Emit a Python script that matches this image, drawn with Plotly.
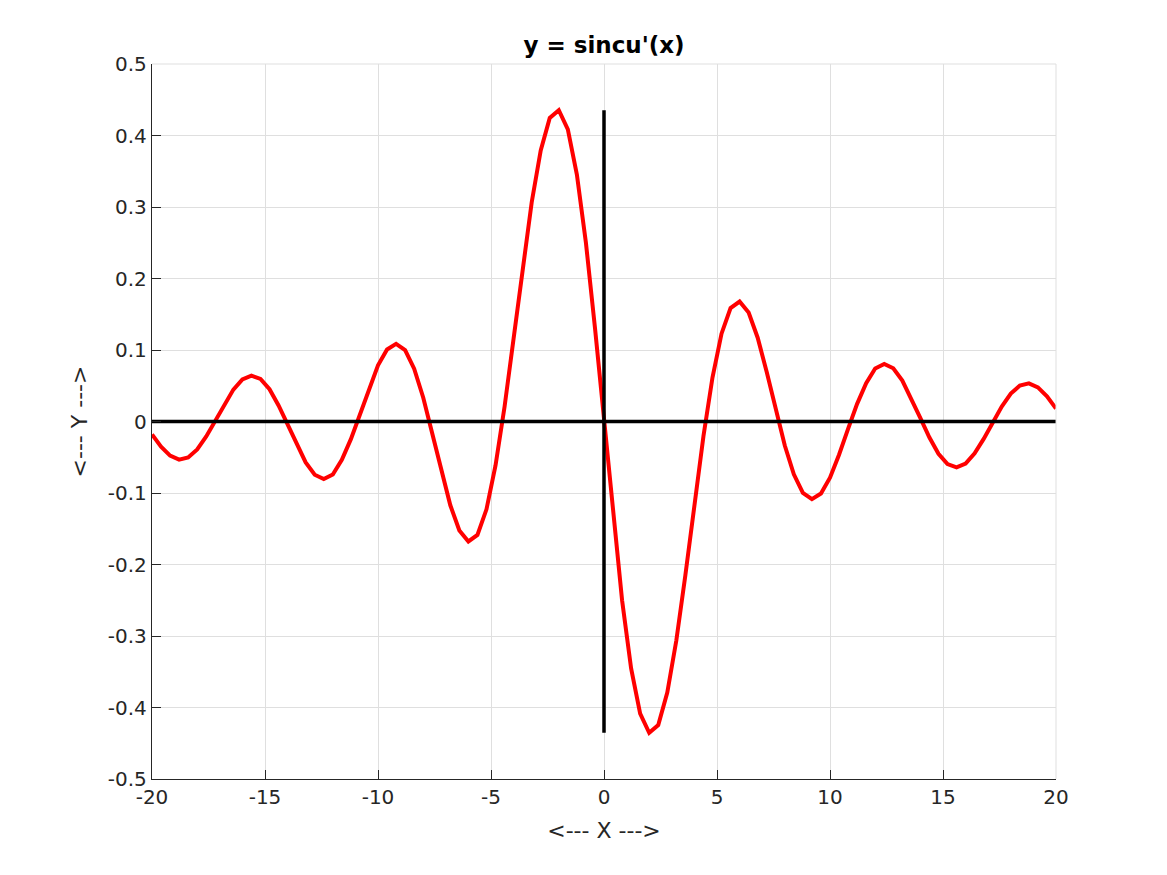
import plotly.graph_objects as go

x_vals = [round(-20 + 0.4 * i, 1) for i in range(101)]

# values for x = 0.4 .. 20 (step 0.4); curve is odd-symmetric
y_pos = [-0.1312, -0.2500, -0.3453, -0.4087, -0.4354, -0.4245, -0.3792, -0.3063,
         -0.2150, -0.1161, -0.0207, 0.0615, 0.1228, 0.1586, 0.1678, 0.1523,
         0.1172, 0.0692, 0.0157, -0.0336, -0.0739, -0.0998, -0.1086, -0.1007,
         -0.0785, -0.0464, -0.0103, 0.0247, 0.0537, 0.0741, 0.0806, 0.0744,
         0.0572, 0.0323, 0.0047, -0.0224, -0.0451, -0.0596, -0.0642, -0.0587,
         -0.0446, -0.0243, -0.0013, 0.0210, 0.0390, 0.0502, 0.0533, 0.0478,
         0.0352, 0.0181]
y_vals = [-v for v in reversed(y_pos)] + [0.0] + y_pos

x_ticks = [-20, -15, -10, -5, 0, 5, 10, 15, 20]
x_tick_text = ["-20", "-15", "-10", "-5", "0", "5", "10", "15", "20"]
y_ticks = [-0.5, -0.4, -0.3, -0.2, -0.1, 0, 0.1, 0.2, 0.3, 0.4, 0.5]
y_tick_text = ["-0.5", "-0.4", "-0.3", "-0.2", "-0.1", "0", "0.1", "0.2", "0.3", "0.4", "0.5"]

fig = go.Figure()
fig.add_trace(go.Scatter(x=x_vals, y=y_vals, mode="lines",
                         line=dict(color="#ff0000", width=4), showlegend=False))
fig.add_trace(go.Scatter(x=[x_vals[0], x_vals[-1]], y=[0, 0], mode="lines",
                         line=dict(color="black", width=3.5), showlegend=False))
fig.add_trace(go.Scatter(x=[0, 0], y=[min(y_vals), max(y_vals)], mode="lines",
                         line=dict(color="black", width=3.5), showlegend=False))

font_family = "DejaVu Sans"
fig.update_layout(
    width=1167, height=875,
    margin=dict(l=144, r=119, t=56, b=104),
    paper_bgcolor="white", plot_bgcolor="white",
    font=dict(family=font_family, size=20, color="#262626"),
    title=dict(text="<b>y = sincu'(x)</b>", x=0.5, xanchor="center",
               xref="paper",
               y=1 - 37 / 875, yanchor="middle",
               font=dict(family=font_family, size=23, color="black")),
    xaxis=dict(range=[-20, 20], tickvals=x_ticks, ticktext=x_tick_text,
               showgrid=True, gridcolor="#dfdfdf", gridwidth=1,
               zeroline=False, showline=True, linecolor="#262626", linewidth=1.3,
               ticks="inside", ticklen=9, tickcolor="#262626",
               tickfont=dict(size=20),
               title=dict(text="<--- X --->", standoff=14,
                          font=dict(family=font_family, size=22)),
               mirror=False),
    yaxis=dict(range=[-0.5, 0.5], tickvals=y_ticks, ticktext=y_tick_text,
               showgrid=True, gridcolor="#dfdfdf", gridwidth=1,
               zeroline=False, showline=True, linecolor="#262626", linewidth=1.3,
               ticks="inside", ticklen=9, tickcolor="#262626",
               tickfont=dict(size=20),
               title=dict(text="<--- Y --->", standoff=14,
                          font=dict(family=font_family, size=22)),
               mirror=False),
)
# light top/right border like the reference
fig.add_shape(type="line", xref="paper", yref="paper", x0=0, x1=1, y0=1, y1=1,
              line=dict(color="#dfdfdf", width=1))
fig.add_shape(type="line", xref="paper", yref="paper", x0=1, x1=1, y0=0, y1=1,
              line=dict(color="#dfdfdf", width=1))

fig.write_html("out.html")
